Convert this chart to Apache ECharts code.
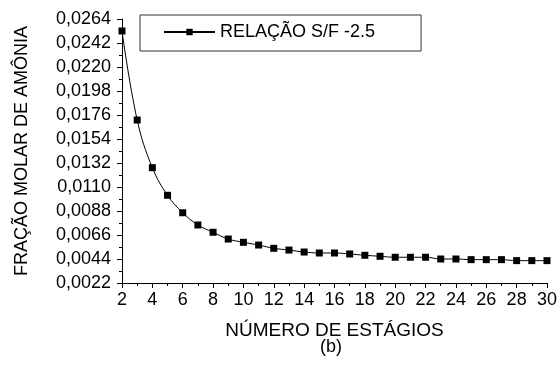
<!DOCTYPE html>
<html>
<head>
<meta charset="utf-8">
<script src="https://cdn.jsdelivr.net/npm/echarts@6/dist/echarts.min.js"></script>
<style>
html,body{margin:0;padding:0;background:#fff;}
#c{width:560px;height:365px;}
</style>
</head>
<body>
<div id="c"></div>
<script>
const seriesName = 'RELAÇÃO S/F -2.5';
const stages = [2,3,4,5,6,7,8,9,10,11,12,13,14,15,16,17,18,19,20,21,22,23,24,25,26,27,28,29,30];
const fraction = [0.0253,0.01714,0.01277,0.01024,0.00864,0.00752,0.00685,0.00623,0.00593,0.00568,0.00538,0.00522,0.00504,0.00495,0.00495,0.00486,0.00474,0.00465,0.00456,0.00456,0.00456,0.0044,0.0044,0.00434,0.00434,0.00434,0.00425,0.00425,0.00425];
const xTitle = 'NÚMERO DE ESTÁGIOS';
const yTitle = 'FRAÇÃO MOLAR DE AMÔNIA';
const caption = '(b)';

const FONT = 'Liberation Sans';
const chart = echarts.init(document.getElementById('c'));
chart.setOption({
  animation: false,
  backgroundColor: '#fff',
  grid: {left: 122, right: 13, top: 19, bottom: 82},
  legend: {
    left: 140, top: 15,
    orient: 'horizontal',
    padding: [8, 46, 10, 23],
    borderColor: '#333', borderWidth: 1,
    itemWidth: 51, itemHeight: 8,
    textStyle: {fontFamily: FONT, fontSize: 18, color: '#000', padding: [0, 0, 0, 0]},
    data: [seriesName]
  },
  xAxis: {
    type: 'value', min: 2, max: 30, interval: 2,
    name: xTitle, nameLocation: 'middle', nameGap: 38,
    nameTextStyle: {fontFamily: FONT, fontSize: 19, color: '#000'},
    axisLine: {show: true, lineStyle: {color: '#000', width: 1}},
    axisTick: {show: true, inside: false, length: 5, lineStyle: {color: '#000'}},
    minorTick: {show: true, splitNumber: 2, length: 3, lineStyle: {color: '#000'}},
    axisLabel: {fontFamily: FONT, fontSize: 18, color: '#000', margin: 8},
    splitLine: {show: false}
  },
  yAxis: {
    type: 'value', min: 0.0022, max: 0.0264, interval: 0.0022,
    name: yTitle, nameLocation: 'middle', nameGap: 91, nameRotate: 90,
    nameTextStyle: {fontFamily: FONT, fontSize: 18, color: '#000'},
    axisLine: {show: true, lineStyle: {color: '#000', width: 1}},
    axisTick: {show: true, inside: false, length: 5, lineStyle: {color: '#000'}},
    minorTick: {show: true, splitNumber: 2, length: 3, lineStyle: {color: '#000'}},
    axisLabel: {fontFamily: FONT, fontSize: 18, color: '#000', margin: 11,
      formatter: v => v.toFixed(4).replace('.', ',')},
    splitLine: {show: false}
  },
  graphic: [{
    type: 'text', left: 320, top: 338,
    style: {text: caption, fontFamily: FONT, fontSize: 18, fill: '#000'}
  }],
  series: [{
    name: seriesName,
    type: 'line',
    data: stages.map((s, i) => [s, fraction[i]]),
    smooth: 0.4,
    symbol: 'rect', symbolSize: 7,
    lineStyle: {color: '#000', width: 1},
    itemStyle: {color: '#000'}
  }]
});
</script>
</body>
</html>
